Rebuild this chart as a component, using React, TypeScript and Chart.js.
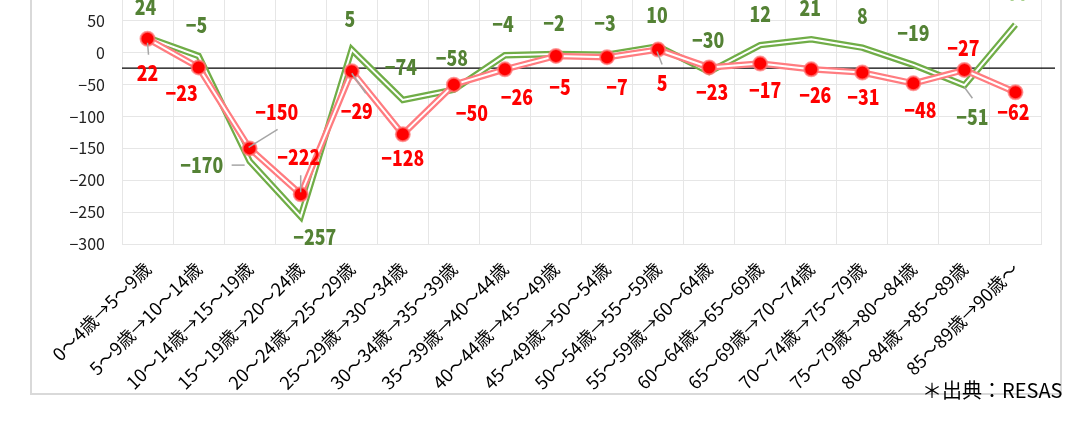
import React, { useEffect, useRef } from "react";
import { Chart, registerables } from "chart.js";

Chart.register(...registerables);

// ---- data ----
const categories = [
  "0～4歳→5～9歳",
  "5～9歳→10～14歳",
  "10～14歳→15～19歳",
  "15～19歳→20～24歳",
  "20～24歳→25～29歳",
  "25～29歳→30～34歳",
  "30～34歳→35～39歳",
  "35～39歳→40～44歳",
  "40～44歳→45～49歳",
  "45～49歳→50～54歳",
  "50～54歳→55～59歳",
  "55～59歳→60～64歳",
  "60～64歳→65～69歳",
  "65～69歳→70～74歳",
  "70～74歳→75～79歳",
  "75～79歳→80～84歳",
  "80～84歳→85～89歳",
  "85～89歳→90歳～",
];

const seriesGreen = [24, -5, -170, -257, 5, -74, -58, -4, -2, -3, 10, -30, 12, 21, 8, -19, -51, 44];
const seriesRed = [22, -23, -150, -222, -29, -128, -50, -26, -5, -7, 5, -23, -17, -26, -31, -48, -27, -62];

const referenceLine = [-24];

const yMin = -300;
const yMax = 100;
const yStep = 50;

// ---- label placement (pixel offsets from the point) ----
const redLabelOffsets: [number, number][] = [
  [0, 34], [-17, 26], [27, -36], [-2, -37], [5, 40], [0, 24], [18, 28], [12, 28], [4, 31],
  [10, 30], [4, 33], [3, 25], [5, 26], [4, 26], [1, 25], [7, 27], [-1, -22], [-2, 20],
];
const greenLabelOffsets: [number, number][] = [
  [-2, -30], [-2, -31], [-48, 4], [14, 20], [-2, -31], [-2, -33], [-2, -32], [-2, -31], [-2, -31],
  [-2, -32], [-1, -31], [-1, -32], [0, -31], [-1, -31], [0, -32], [0, -32], [8, 32], [0, -32],
];
const greenLabelColors = seriesGreen.map((_, i) => (i === seriesGreen.length - 1 ? "#a9d18e" : "#548235"));

type Leader = { series: "red" | "green"; index: number; from: [number, number]; to: [number, number] };
const leaders: Leader[] = [
  { series: "red", index: 0, from: [0, 4], to: [1, 16] },
  { series: "red", index: 2, from: [-1, -1], to: [28, -19] },
  { series: "red", index: 3, from: [0, -19], to: [0, -2] },
  { series: "red", index: 4, from: [0, 2], to: [14, 22] },
  { series: "red", index: 10, from: [-1, 2], to: [4, 15] },
  { series: "green", index: 2, from: [-18, 4], to: [-5, 4] },
  { series: "green", index: 16, from: [0, 2], to: [8, 13] },
];

const LABEL_FONT = "900 21px 'Noto Sans CJK JP', 'Noto Sans', Roboto, sans-serif";
const LABEL_HSCALE = 0.84;
const TICK_FONT_FAMILY = "'Noto Sans CJK JP', 'Noto Sans', sans-serif";

const fmt = (v: number) => (v < 0 ? "\u2212" + Math.abs(v) : String(v));

const GREEN_DS = 0;
const RED_DS = 3;

const refLinePlugin = {
  id: "refLine",
  beforeDatasetsDraw(chart: any) {
    const { ctx, chartArea, scales } = chart;
    const y = scales.y.getPixelForValue(referenceLine[0]);
    ctx.save();
    ctx.strokeStyle = "#000000";
    ctx.lineWidth = 1.3;
    ctx.beginPath();
    ctx.moveTo(chartArea.left, y);
    ctx.lineTo(chartArea.right + 14, y);
    ctx.stroke();
    ctx.restore();
  },
};

const drawLabel = (ctx: CanvasRenderingContext2D, text: string, x: number, y: number, color: string) => {
  ctx.save();
  ctx.translate(x, y);
  ctx.scale(LABEL_HSCALE, 1);
  ctx.fillStyle = color;
  ctx.fillText(text, 0, 0);
  ctx.restore();
};

const labelPlugin = {
  id: "pointLabels",
  afterDatasetsDraw(chart: any) {
    const { ctx } = chart;
    const gMeta = chart.getDatasetMeta(GREEN_DS);
    const rMeta = chart.getDatasetMeta(RED_DS);
    ctx.save();
    ctx.strokeStyle = "#a6a6a6";
    ctx.lineWidth = 1.5;
    leaders.forEach((l) => {
      const meta = l.series === "red" ? rMeta : gMeta;
      const p = meta.data[l.index];
      ctx.beginPath();
      ctx.moveTo(p.x + l.from[0], p.y + l.from[1]);
      ctx.lineTo(p.x + l.to[0], p.y + l.to[1]);
      ctx.stroke();
    });
    ctx.font = LABEL_FONT;
    ctx.textAlign = "center";
    ctx.textBaseline = "middle";
    seriesGreen.forEach((v, i) => {
      const p = gMeta.data[i];
      drawLabel(ctx, fmt(v), p.x + greenLabelOffsets[i][0], p.y + greenLabelOffsets[i][1], greenLabelColors[i]);
    });
    seriesRed.forEach((v, i) => {
      const p = rMeta.data[i];
      drawLabel(ctx, fmt(v), p.x + redLabelOffsets[i][0], p.y + redLabelOffsets[i][1], "#ff0000");
    });
    ctx.restore();
  },
};

export default function App() {
  const canvasRef = useRef<HTMLCanvasElement | null>(null);

  useEffect(() => {
    if (!canvasRef.current) return;
    const chart = new Chart(canvasRef.current, {
      type: "line",
      data: {
        labels: categories,
        datasets: [
          {
            data: seriesGreen,
            order: 4,
            borderColor: "#70ad47",
            borderWidth: 6.5,
            pointRadius: 0,
            borderJoinStyle: "miter",
            tension: 0,
          },
          {
            data: seriesGreen,
            order: 3,
            borderColor: "#ffffff",
            borderWidth: 2,
            pointRadius: 0,
            borderJoinStyle: "miter",
            tension: 0,
          },
          {
            data: seriesRed,
            order: 2,
            borderColor: "#ff7c80",
            borderWidth: 6.5,
            pointRadius: 0,
            borderJoinStyle: "miter",
            tension: 0,
          },
          {
            data: seriesRed,
            order: 1,
            borderColor: "#ffffff",
            borderWidth: 2,
            pointRadius: 7,
            pointBorderWidth: 2,
            pointBackgroundColor: "#ff0000",
            pointBorderColor: "rgba(255,120,120,0.75)",
            borderJoinStyle: "miter",
            tension: 0,
          },
        ],
      },
      options: {
        animation: false,
        responsive: false,
        devicePixelRatio: 1,
        layout: { padding: { left: 0, right: 19, top: 27, bottom: 0 } },
        plugins: { legend: { display: false }, tooltip: { enabled: false } },
        scales: {
          x: {
            offset: true,
            grid: { offset: true, color: "#e6e6e6", lineWidth: 1, drawTicks: false },
            border: { color: "#e6e6e6" },
            ticks: {
              autoSkip: false,
              maxRotation: 45,
              minRotation: 45,
              padding: 14,
              color: "#000000",
              font: { family: TICK_FONT_FAMILY, size: 18 },
            },
            afterFit: (s: any) => {
              s.height = 149;
              s.paddingLeft = 0;
              s.paddingRight = 0;
            },
          },
          y: {
            min: yMin,
            max: yMax,
            grid: { color: "#e6e6e6", lineWidth: 1, drawTicks: false },
            border: { color: "#e6e6e6" },
            ticks: {
              stepSize: yStep,
              padding: 17,
              color: "#222222",
              font: { family: TICK_FONT_FAMILY, size: 16 },
              callback: (v: any) => fmt(Number(v)),
            },
            afterFit: (s: any) => {
              s.width = 90;
            },
          },
        },
      },
      plugins: [refLinePlugin, labelPlugin],
    });
    return () => chart.destroy();
  }, []);

  return (
    <div style={{ position: "fixed", left: 0, top: 0, width: 1071, height: 425, overflow: "hidden", background: "#ffffff" }}>
      <div
        style={{
          position: "absolute",
          left: 30,
          top: -40,
          width: 1032,
          height: 435,
          border: "2px solid #d9d9d9",
          boxSizing: "border-box",
          background: "#ffffff",
        }}
      >
        <canvas ref={canvasRef} width={1028} height={431} style={{ display: "block", width: 1028, height: 431 }} />
      </div>
      <div
        style={{
          position: "absolute",
          left: 922,
          top: 376,
          fontFamily: TICK_FONT_FAMILY,
          fontSize: 20,
          lineHeight: "28px",
          color: "#000000",
          whiteSpace: "nowrap",
        }}
      >
        ＊出典：RESAS
      </div>
    </div>
  );
}
